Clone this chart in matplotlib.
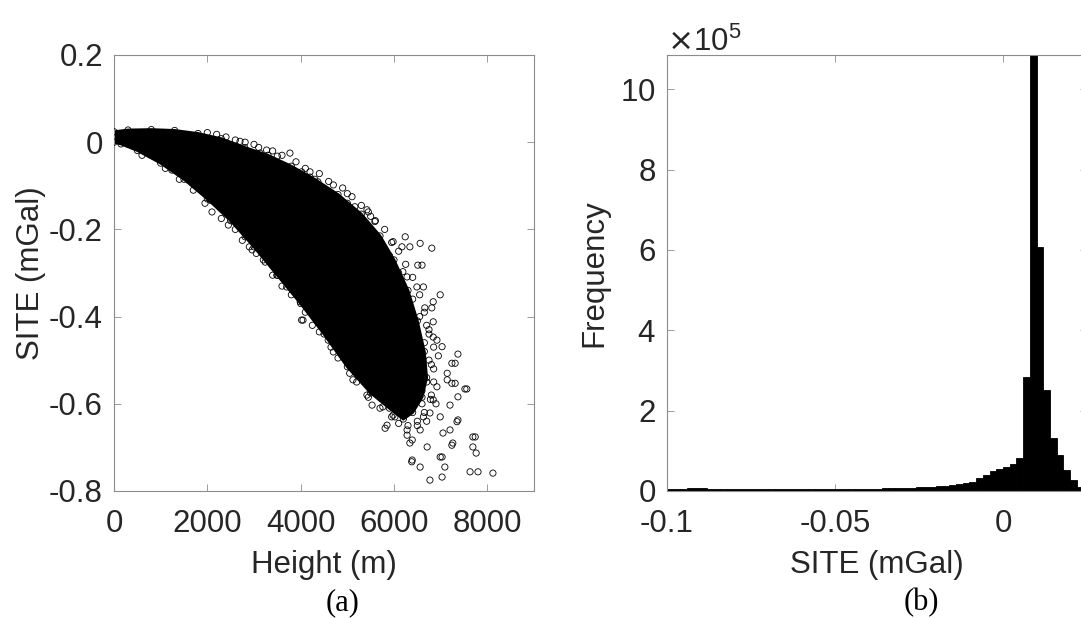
import numpy as np
import matplotlib
matplotlib.use("Agg")
import matplotlib.pyplot as plt
from matplotlib.ticker import ScalarFormatter

plt.rcParams['font.family'] = ['Liberation Sans', 'DejaVu Sans']
plt.rcParams['axes.unicode_minus'] = False

# ---------------- data (a): dense core outline of the scatter ----------------
core_height = [0, 300, 800, 1300, 1800, 2300, 2800, 3300, 3800, 4300, 4800, 5300,
               5700, 6000, 6300, 6500, 6650, 6700, 6600, 6400, 6200,
               5900, 5500, 5000, 4500, 4000, 3500, 3000, 2500, 2000, 1500, 1000, 500, 150, 0]
core_site = [0.024, 0.028, 0.029, 0.027, 0.020, 0.008, -0.012, -0.030, -0.055, -0.085, -0.12, -0.165,
             -0.215, -0.27, -0.34, -0.41, -0.48, -0.54, -0.585, -0.62, -0.635,
             -0.61, -0.575, -0.515, -0.44, -0.37, -0.305, -0.24, -0.18, -0.13, -0.085, -0.048, -0.019, -0.004, 0.0]

# circles along the fuzzy edge of the core
edge_height = [2000, 2400, 2600, 3000, 3400, 3600, 3900, 4100, 4400, 4600, 4900, 5100, 5300, 5450, 5600,
               5800, 5950, 6100, 6250, 6400, 6550, 6650, 6750, 6850, 6800, 6850, 6780, 6650, 6500, 6300,
               600, 1100, 1400, 1700, 1950, 2300, 2600, 2900, 3200, 3400, 3800, 4100, 4400, 4800, 5200,
               5450, 5700, 5950, 6100,
               2200, 2700, 3100, 3500, 4200, 4700, 5000, 5500, 2100, 2450, 2750, 3050, 3600, 4250, 4650, 5050]
edge_site = [0.022, 0.012, 0.005, -0.005, -0.020, -0.030, -0.045, -0.060, -0.072, -0.090, -0.105, -0.125,
             -0.145, -0.160, -0.180, -0.200, -0.230, -0.250, -0.280, -0.310, -0.350, -0.390, -0.430, -0.470,
             -0.510, -0.550, -0.590, -0.620, -0.650, -0.650,
             -0.030, -0.060, -0.085, -0.110, -0.140, -0.175, -0.200, -0.240, -0.270, -0.305, -0.350, -0.390,
             -0.435, -0.495, -0.550, -0.585, -0.610, -0.630, -0.645,
             0.018, 0.002, -0.012, -0.032, -0.068, -0.098, -0.118, -0.170,
             -0.160, -0.190, -0.225, -0.255, -0.330, -0.420, -0.470, -0.530]

# scattered individual points outside the dense core
out_height = [2810, 3130, 3270, 3770, 4020, 4200, 4370, 4590, 4770, 5160, 5420, 5590, 5980, 6240, 6560,
              6810, 6170, 6340, 6510, 6600, 6190, 6280, 6490, 6630, 6990, 6840, 6660, 6810, 6840, 6920,
              7030, 7370, 7240, 7310, 7140, 7240, 7310, 7520, 7560, 7370, 6920, 6840, 7200, 7370, 7350,
              7200, 7050, 6990, 6770, 6630, 6560, 6280, 6390, 6710, 7260, 7240, 7690, 7740, 7690, 7760,
              6990, 7030, 7090, 7030, 6770, 6390, 6560, 7630, 7800, 8120, 6340, 6280, 6020, 5850, 5810,
              5980, 5760, 5530, 5420, 5120, 4700, 4590, 4020, 4050, 3990, 3700, 3490, 3240, 2960, 2810,
              2060, 1240, 6840, 7140, 6380,
              6550, 6700, 6650, 6750, 6850, 6700, 6800, 6600, 6700, 6500, 6450, 6600, 6900, 6950, 6750,
              6400, 6200, 6100, 5900, 5750, 5500, 5300, 5000, 4700]
out_site = [0.000, -0.025, -0.018, -0.025, -0.068, -0.080, -0.091, -0.114, -0.133, -0.148, -0.155, -0.182,
            -0.228, -0.217, -0.232, -0.243, -0.240, -0.240, -0.282, -0.282, -0.297, -0.309, -0.332, -0.332,
            -0.350, -0.366, -0.380, -0.380, -0.412, -0.454, -0.469, -0.486, -0.507, -0.507, -0.530, -0.553,
            -0.553, -0.566, -0.566, -0.584, -0.561, -0.591, -0.603, -0.637, -0.641, -0.660, -0.667, -0.630,
            -0.621, -0.630, -0.660, -0.660, -0.683, -0.699, -0.690, -0.695, -0.676, -0.676, -0.699, -0.713,
            -0.722, -0.722, -0.745, -0.768, -0.775, -0.729, -0.745, -0.756, -0.756, -0.759, -0.690, -0.672,
            -0.630, -0.649, -0.656, -0.626, -0.607, -0.603, -0.580, -0.545, -0.481, -0.454, -0.408, -0.408,
            -0.366, -0.332, -0.305, -0.275, -0.247, -0.217, -0.133, -0.064, -0.447, -0.545, -0.733,
            -0.40, -0.42, -0.46, -0.50, -0.52, -0.55, -0.58, -0.60, -0.64, -0.64, -0.60, -0.57, -0.60,
            -0.49, -0.44, -0.36, -0.33, -0.30, -0.26, -0.24, -0.20, -0.18, -0.14, -0.12]

# ---------------- data (b): histogram ----------------
bin_left = [round(-0.100 + 0.002 * i, 3) for i in range(62)]
counts_e5 = [0.04, 0.05, 0.06, 0.07, 0.07, 0.07, 0.06, 0.05, 0.045, 0.04,
             0.04, 0.04, 0.04, 0.04, 0.04, 0.04, 0.04, 0.04, 0.04, 0.04,
             0.045, 0.045, 0.045, 0.05, 0.05, 0.05, 0.05, 0.05, 0.055, 0.06,
             0.06, 0.06, 0.065, 0.065, 0.07, 0.08, 0.08, 0.09, 0.10, 0.11,
             0.12, 0.13, 0.15, 0.17, 0.20, 0.23, 0.32, 0.40, 0.50, 0.55,
             0.60, 0.68, 0.82, 2.84, 15.0, 6.08, 2.51, 1.31, 0.90, 0.52,
             0.27, 0.10]
bin_width = 0.002

height_ticks = [0, 2000, 4000, 6000, 8000]
site_ticks = [0.2, 0, -0.2, -0.4, -0.6, -0.8]
site_ticklabels = ['0.2', '0', '-0.2', '-0.4', '-0.6', '-0.8']
hist_xticks = [-0.1, -0.05, 0]
hist_xticklabels = ['-0.1', '-0.05', '0']
freq_ticks = [0, 2e5, 4e5, 6e5, 8e5, 10e5]

# ---------------- figure ----------------
W, H = 1081, 618
fig = plt.figure(figsize=(W / 100, H / 100), dpi=100)
axA = fig.add_axes([114 / W, (H - 491) / H, 420 / W, 436 / H])
axB = fig.add_axes([667 / W, (H - 491) / H, 420 / W, 436 / H])

spine_col = '0.55'
text_col = '#262626'
fs = 22.5

for ax in (axA, axB):
    for s in ax.spines.values():
        s.set_color(spine_col)
        s.set_linewidth(0.8)
    ax.tick_params(direction='in', length=5, width=0.6, color=spine_col,
                   labelsize=fs, labelcolor=text_col, top=True, right=True)
    ax.tick_params(axis='x', pad=13)
    ax.tick_params(axis='y', pad=8)

# (a) scatter
axA.fill(core_height, core_site, color='black', edgecolor='black', linewidth=2.0, zorder=2)
mk = dict(s=20, facecolors='none', edgecolors='black', linewidths=0.6, zorder=3)
axA.scatter(core_height, core_site, **mk)
axA.scatter(edge_height, edge_site, **mk)
axA.scatter(out_height, out_site, **mk)
axA.set_xlim(0, 9000)
axA.set_ylim(-0.8, 0.2)
axA.set_xticks(height_ticks)
axA.set_xticklabels([str(t) for t in height_ticks])
axA.set_yticks(site_ticks)
axA.set_yticklabels(site_ticklabels)
axA.set_xlabel('Height (m)', fontsize=fs, color=text_col, labelpad=8)
axA.set_ylabel('SITE (mGal)', fontsize=fs, color=text_col, labelpad=2)

# (b) histogram
counts = [c * 1e5 for c in counts_e5]
axB.bar(bin_left, counts, width=bin_width, align='edge', color='black',
        edgecolor='black', linewidth=0.6, zorder=2)
axB.set_xlim(-0.1, 0.025)
axB.set_ylim(0, 1.085e6)
axB.set_xticks(hist_xticks)
axB.set_xticklabels(hist_xticklabels)
axB.set_yticks(freq_ticks)
fmt = ScalarFormatter(useMathText=True)
fmt.set_powerlimits((5, 5))
axB.yaxis.set_major_formatter(fmt)
axB.yaxis.get_offset_text().set_fontsize(fs)
axB.yaxis.get_offset_text().set_color(text_col)
axB.set_xlabel('SITE (mGal)', fontsize=fs, color=text_col, labelpad=8)
axB.set_ylabel('Frequency', fontsize=fs, color=text_col, labelpad=8)

# panel captions
fig.text(343 / W, 1 - 603 / H, '(a)', fontsize=22, family=['Liberation Serif', 'DejaVu Serif'],
         ha='center', va='center', color='black')
fig.text(921 / W, 1 - 603 / H, '(b)', fontsize=22, family=['Liberation Serif', 'DejaVu Serif'],
         ha='center', va='center', color='black')

fig.savefig('out.png', dpi=100)
